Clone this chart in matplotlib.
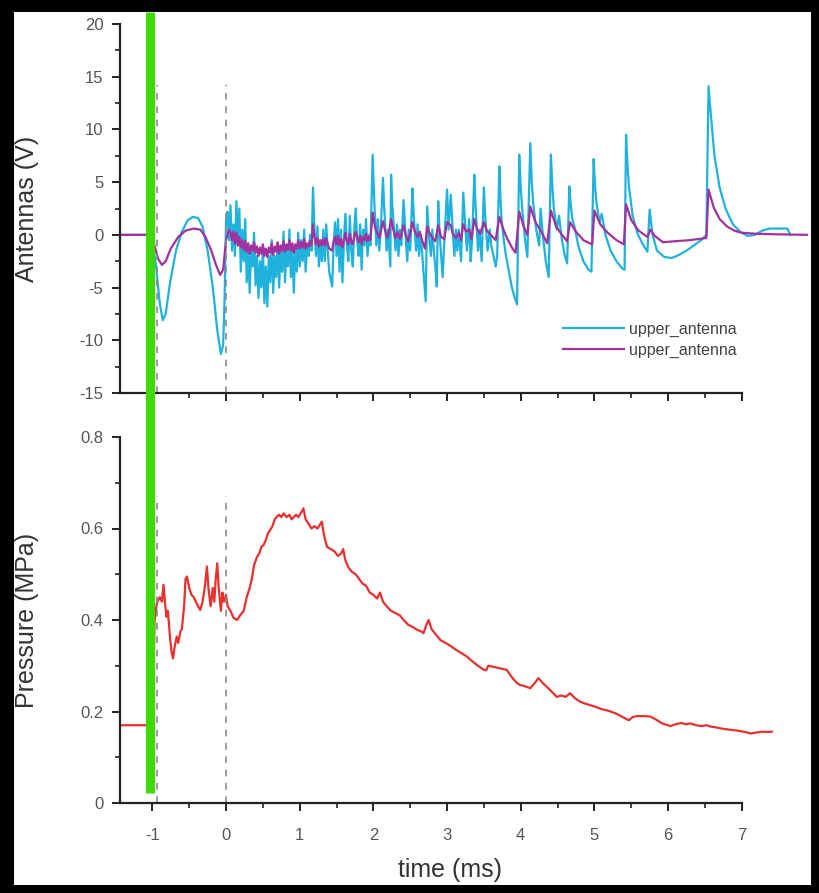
import numpy as np
import matplotlib
matplotlib.use("Agg")
import matplotlib.pyplot as plt
from matplotlib.lines import Line2D
from matplotlib.patches import Rectangle

plt.rcParams['font.family'] = ['Liberation Sans Narrow', 'Liberation Sans', 'DejaVu Sans']
plt.rcParams['axes.unicode_minus'] = False

# antenna signals, (time ms, volts)
upper = np.array([
    (-1.44, 0), (-1.05, 0), (-1.0, -0.5), (-0.95, -3), (-0.90, -6.5), (-0.86, -8.1), (-0.82, -7.5),
    (-0.76, -4.5), (-0.68, -1.5), (-0.6, 0.3), (-0.52, 1.4), (-0.45, 1.7), (-0.38, 1.6), (-0.32, 0.8),
    (-0.25, -1.5), (-0.18, -5), (-0.12, -9), (-0.07, -11.3), (-0.04, -10.5), (-0.02, -6), (0.0, 1.5),
    (0.02, 2.2), (0.04, -0.5), (0.06, 2.8), (0.08, -1.5), (0.10, 1.0), (0.12, -2.0), (0.14, 3.2),
    (0.16, -1.0), (0.18, 2.5), (0.20, -3.5), (0.22, 0.5), (0.24, -2.5), (0.26, 1.5), (0.28, -4.5),
    (0.30, -1.0), (0.32, -5.5), (0.34, -1.5), (0.36, -3.0), (0.38, 0.2), (0.40, -4.8), (0.42, -2.0),
    (0.44, -6.0), (0.46, -2.5), (0.48, -5.0), (0.50, -1.0), (0.52, -6.5), (0.54, -3.0), (0.56, -6.8),
    (0.58, -2.0), (0.60, -4.5), (0.62, -0.5), (0.64, -5.5), (0.66, -2.0), (0.68, -4.0), (0.70, -0.8),
    (0.72, -5.0), (0.74, -1.5), (0.76, -3.5), (0.78, 0.3), (0.80, -4.5), (0.82, -1.0), (0.84, -3.0),
    (0.86, 0.5), (0.88, -4.0), (0.90, -1.5), (0.92, -5.5), (0.94, -1.0), (0.96, -3.5), (0.98, 0.2),
    (1.00, -3.0), (1.02, -0.5), (1.04, -2.5), (1.06, 0.5), (1.08, -3.5), (1.10, -1.0), (1.12, -2.0),
    (1.14, 0.0), (1.16, -1.5), (1.18, 4.5), (1.20, 0.5), (1.22, -2.0), (1.24, 0.8), (1.26, -3.0),
    (1.28, -0.5), (1.30, -2.5), (1.32, 0.5), (1.34, -2.5), (1.36, 1.0), (1.38, -1.5), (1.40, -3.5),
    (1.44, -4.9), (1.46, -1.0), (1.48, 1.2), (1.50, -2.0), (1.52, 1.5), (1.54, -3.5), (1.56, 0.5),
    (1.58, -4.5), (1.60, -0.5), (1.62, 2.0), (1.64, -1.0), (1.66, -2.5), (1.68, 1.8), (1.70, -1.5),
    (1.72, -3.0), (1.74, 0.5), (1.76, 2.5), (1.78, -0.5), (1.80, -2.0), (1.82, 1.0), (1.84, -3.3),
    (1.86, 0.5), (1.88, -1.0), (1.90, 1.5), (1.92, -2.0), (1.94, 0.0), (1.96, -1.0), (1.99, 7.6),
    (2.01, 3.5), (2.02, 2.0), (2.04, -1.0), (2.06, 1.5), (2.08, -1.5), (2.10, 0.5), (2.13, 5.4),
    (2.145, 2.8), (2.16, 1.0), (2.18, -1.5), (2.20, 0.5), (2.23, -3.0), (2.24, 5.7), (2.255, 3.0),
    (2.27, 1.5), (2.30, -1.5), (2.32, 1.0), (2.34, -2.0), (2.36, 0.5), (2.38, -1.0), (2.41, 3.3),
    (2.44, -0.5), (2.46, -2.5), (2.48, 0.5), (2.50, -1.5), (2.53, 4.4), (2.545, 2.2), (2.56, 0.5),
    (2.58, -1.5), (2.60, 1.0), (2.62, -2.0), (2.64, 0.0), (2.66, -1.5), (2.68, -3.5), (2.71, -6.3),
    (2.73, 2.7), (2.76, -0.5), (2.78, -2.0), (2.80, 0.5), (2.82, -1.5), (2.84, -3.0), (2.86, -4.9),
    (2.88, 3.2), (2.90, 0.0), (2.92, -2.0), (2.94, -4.0), (2.96, -1.0), (3.00, 4.3), (3.02, 0.5),
    (3.05, 3.8), (3.08, 0.0), (3.10, -2.0), (3.12, 0.5), (3.14, -1.5), (3.16, 0.5), (3.19, -2.5),
    (3.22, 4.0), (3.25, 0.5), (3.27, -1.5), (3.30, 1.5), (3.32, -2.5), (3.34, -0.5), (3.37, 5.7),
    (3.385, 3.0), (3.40, 1.0), (3.42, -1.5), (3.44, 0.5), (3.47, -2.5), (3.50, 4.5), (3.515, 2.2),
    (3.53, 0.5), (3.55, -1.5), (3.58, 0.5), (3.60, -1.0), (3.63, -2.0), (3.66, -3.0), (3.68, -2.0),
    (3.71, 6.5), (3.725, 3.5), (3.74, 1.5), (3.77, -0.5), (3.80, -2.0), (3.84, -3.5), (3.88, -5.0),
    (3.92, -6.0), (3.95, -6.6), (3.98, 7.6), (4.00, 4.5), (4.02, 2.5), (4.06, -0.5), (4.09, -2.1),
    (4.13, 8.7), (4.15, 5.0), (4.17, 3.0), (4.21, 0.5), (4.25, -1.0), (4.27, 2.5), (4.30, 0.0),
    (4.34, -2.5), (4.38, -4.0), (4.41, 7.6), (4.43, 4.5), (4.45, 2.5), (4.49, 0.5), (4.52, 1.8),
    (4.56, -0.5), (4.60, -2.0), (4.63, -2.7), (4.66, 4.6), (4.68, 2.8), (4.70, 1.5), (4.74, 0.5),
    (4.78, -1.0), (4.85, -2.5), (4.92, -3.3), (4.96, -3.5), (4.99, 7.2), (5.01, 4.5), (5.03, 3.0),
    (5.07, 1.2), (5.10, 2.0), (5.15, 0.0), (5.22, -1.5), (5.30, -2.5), (5.38, -3.2), (5.41, -3.3),
    (5.43, 9.5), (5.45, 6.5), (5.47, 4.5), (5.52, 1.8), (5.58, 0.2), (5.65, -0.8), (5.72, -1.6),
    (5.75, 2.4), (5.79, 0.0), (5.85, -1.5), (5.95, -2.1), (6.05, -2.2), (6.15, -1.9), (6.25, -1.5),
    (6.35, -1.0), (6.45, -0.5), (6.52, 0.0), (6.55, 14.1), (6.58, 11.5), (6.63, 7.5), (6.70, 4.5),
    (6.78, 2.5), (6.88, 1.0), (6.98, 0.3), (7.08, -0.1), (7.18, 0.0), (7.28, 0.4), (7.38, 0.6),
    (7.50, 0.6), (7.62, 0.6), (7.66, 0.0),
])

lower = np.array([
    (-1.44, 0), (-1.03, 0), (-0.98, -0.8), (-0.92, -2.3), (-0.87, -2.85), (-0.82, -2.5), (-0.75, -1.3),
    (-0.65, -0.2), (-0.55, 0.4), (-0.44, 0.6), (-0.35, 0.5), (-0.28, -0.2), (-0.2, -1.5), (-0.14, -2.8),
    (-0.08, -3.8), (-0.04, -3.3), (0.0, -0.5), (0.04, 0.5), (0.06, 0.2), (0.08, -0.5), (0.10, 0.3),
    (0.12, -0.8), (0.14, 0.2), (0.16, -1.0), (0.18, -0.2), (0.20, -1.2), (0.22, -0.5), (0.24, -1.4),
    (0.26, -0.6), (0.28, -1.6), (0.30, -0.8), (0.32, -1.8), (0.34, -1.0), (0.36, -1.5), (0.38, -0.7),
    (0.40, -1.7), (0.42, -1.1), (0.44, -2.0), (0.46, -1.2), (0.48, -1.8), (0.50, -0.9), (0.52, -2.0),
    (0.54, -1.3), (0.56, -2.1), (0.58, -1.2), (0.60, -1.7), (0.62, -0.8), (0.64, -1.9), (0.66, -1.1),
    (0.68, -1.6), (0.70, -0.7), (0.72, -1.8), (0.74, -1.0), (0.76, -1.5), (0.78, -0.6), (0.80, -1.6),
    (0.82, -0.9), (0.84, -1.4), (0.86, -0.5), (0.88, -1.5), (0.90, -0.8), (0.92, -1.7), (0.94, -0.9),
    (0.96, -1.3), (0.98, -0.5), (1.00, -1.3), (1.02, -0.7), (1.04, -1.2), (1.06, -0.4), (1.08, -1.3),
    (1.10, -0.8), (1.12, -1.1), (1.14, -0.6), (1.16, -1.0), (1.18, 1.0), (1.20, -0.2), (1.22, -0.9),
    (1.24, -0.3), (1.26, -1.1), (1.28, -0.5), (1.30, -1.0), (1.32, -0.4), (1.34, -1.0), (1.36, -0.3),
    (1.38, -0.9), (1.40, -1.3), (1.44, -1.5), (1.46, -0.6), (1.48, -0.2), (1.50, -0.9), (1.52, -0.1),
    (1.54, -1.0), (1.56, -0.4), (1.58, -1.2), (1.60, -0.5), (1.62, 0.2), (1.64, -0.6), (1.66, -0.9),
    (1.68, 0.1), (1.70, -0.6), (1.72, -0.9), (1.74, -0.2), (1.76, 0.3), (1.78, -0.3), (1.80, -0.7),
    (1.82, -0.1), (1.84, -0.9), (1.86, -0.2), (1.88, -0.5), (1.90, 0.1), (1.92, -0.6), (1.94, -0.2),
    (1.96, -0.5), (1.99, 2.1), (2.02, 0.8), (2.05, 0.2), (2.08, -0.3), (2.10, 0.3), (2.13, 1.3),
    (2.16, 0.4), (2.19, -0.3), (2.21, 0.2), (2.24, 1.5), (2.27, 0.5), (2.30, -0.3), (2.33, 0.3),
    (2.36, -0.4), (2.38, 0.1), (2.41, 0.9), (2.44, 0.0), (2.47, -0.6), (2.50, 0.1), (2.53, 1.2),
    (2.56, 0.4), (2.60, -0.2), (2.63, 0.3), (2.66, -0.5), (2.70, -1.3), (2.73, 0.8), (2.76, 0.2),
    (2.80, -0.3), (2.84, -0.6), (2.88, 0.9), (2.92, -0.2), (2.96, -0.4), (3.00, 1.2), (3.05, 0.9),
    (3.08, 0.1), (3.12, -0.3), (3.16, 0.2), (3.19, -0.5), (3.22, 1.0), (3.26, 0.3), (3.30, 0.5),
    (3.33, -0.4), (3.37, 1.5), (3.41, 0.5), (3.45, 0.1), (3.50, 1.2), (3.54, 0.4), (3.58, 0.1),
    (3.62, -0.2), (3.66, -0.5), (3.71, 1.7), (3.76, 0.6), (3.82, -0.4), (3.88, -1.2), (3.93, -1.7),
    (3.98, 2.2), (4.04, 0.8), (4.09, 0.0), (4.13, 2.7), (4.20, 1.2), (4.28, 0.3), (4.36, -0.8),
    (4.41, 2.3), (4.48, 0.8), (4.56, 0.0), (4.63, -0.6), (4.67, 1.2), (4.75, 0.3), (4.85, -0.5),
    (4.97, -0.9), (5.00, 2.3), (5.08, 1.0), (5.18, 0.2), (5.30, -0.5), (5.40, -0.9), (5.43, 2.9),
    (5.50, 1.4), (5.60, 0.4), (5.72, -0.2), (5.76, 0.5), (5.82, -0.1), (5.93, -0.7), (6.10, -0.6),
    (6.30, -0.5), (6.52, -0.3), (6.55, 4.3), (6.62, 2.6), (6.70, 1.5), (6.80, 0.8), (6.90, 0.4),
    (7.00, 0.2), (7.20, 0.1), (7.50, 0.05), (7.90, 0.0),
])

# pressure trace, (time ms, MPa)
pressure = np.array([
    (-1.44, 0.17), (-1.05, 0.17), (-1.0, 0.17), (-0.97, 0.40), (-0.94, 0.437), (-0.90, 0.45),
    (-0.87, 0.44), (-0.85, 0.477), (-0.83, 0.44), (-0.81, 0.407), (-0.79, 0.42), (-0.76, 0.36),
    (-0.74, 0.33), (-0.72, 0.316), (-0.70, 0.34), (-0.67, 0.364), (-0.65, 0.35), (-0.62, 0.375),
    (-0.60, 0.38), (-0.57, 0.43), (-0.55, 0.49), (-0.53, 0.495), (-0.50, 0.47), (-0.47, 0.455),
    (-0.44, 0.45), (-0.41, 0.44), (-0.38, 0.43), (-0.35, 0.422), (-0.32, 0.44), (-0.29, 0.47),
    (-0.26, 0.517), (-0.24, 0.47), (-0.21, 0.43), (-0.18, 0.47), (-0.16, 0.44), (-0.14, 0.49),
    (-0.12, 0.524), (-0.10, 0.47), (-0.07, 0.42), (-0.05, 0.46), (-0.03, 0.44), (0.0, 0.455),
    (0.02, 0.43), (0.06, 0.42), (0.10, 0.405), (0.15, 0.40), (0.19, 0.41), (0.24, 0.42),
    (0.28, 0.45), (0.32, 0.47), (0.35, 0.49), (0.38, 0.52), (0.42, 0.538), (0.45, 0.545),
    (0.48, 0.56), (0.51, 0.564), (0.54, 0.575), (0.57, 0.59), (0.60, 0.597), (0.63, 0.605),
    (0.66, 0.62), (0.69, 0.626), (0.72, 0.63), (0.75, 0.625), (0.78, 0.633), (0.82, 0.625),
    (0.86, 0.63), (0.89, 0.62), (0.92, 0.625), (0.95, 0.63), (0.98, 0.625), (1.02, 0.635),
    (1.05, 0.644), (1.08, 0.62), (1.12, 0.61), (1.16, 0.60), (1.20, 0.605), (1.24, 0.60),
    (1.28, 0.61), (1.30, 0.615), (1.33, 0.585), (1.37, 0.56), (1.42, 0.555), (1.47, 0.55),
    (1.52, 0.54), (1.56, 0.545), (1.59, 0.555), (1.62, 0.53), (1.66, 0.515), (1.71, 0.505),
    (1.76, 0.50), (1.80, 0.491), (1.85, 0.48), (1.90, 0.475), (1.95, 0.46), (2.00, 0.455),
    (2.05, 0.447), (2.09, 0.46), (2.13, 0.44), (2.18, 0.43), (2.24, 0.42), (2.30, 0.415),
    (2.36, 0.41), (2.41, 0.40), (2.47, 0.39), (2.53, 0.385), (2.60, 0.378), (2.65, 0.375),
    (2.68, 0.371), (2.72, 0.39), (2.75, 0.40), (2.79, 0.38), (2.84, 0.37), (2.91, 0.356),
    (2.98, 0.35), (3.05, 0.343), (3.12, 0.335), (3.20, 0.327), (3.27, 0.32), (3.34, 0.31),
    (3.42, 0.30), (3.50, 0.291), (3.53, 0.29), (3.56, 0.30), (3.62, 0.298), (3.70, 0.295),
    (3.81, 0.291), (3.88, 0.275), (3.95, 0.262), (3.99, 0.258), (4.06, 0.255), (4.13, 0.251),
    (4.19, 0.262), (4.24, 0.273), (4.30, 0.262), (4.38, 0.25), (4.44, 0.24), (4.49, 0.232),
    (4.55, 0.235), (4.61, 0.232), (4.67, 0.24), (4.73, 0.23), (4.80, 0.222), (4.86, 0.218),
    (4.94, 0.214), (5.02, 0.21), (5.10, 0.205), (5.16, 0.203), (5.22, 0.20), (5.30, 0.195),
    (5.38, 0.188), (5.44, 0.183), (5.47, 0.181), (5.52, 0.188), (5.58, 0.19), (5.66, 0.19),
    (5.76, 0.189), (5.84, 0.182), (5.92, 0.174), (6.00, 0.17), (6.03, 0.168), (6.10, 0.172),
    (6.18, 0.175), (6.24, 0.172), (6.30, 0.174), (6.38, 0.17), (6.46, 0.168), (6.52, 0.17),
    (6.58, 0.167), (6.66, 0.165), (6.75, 0.162), (6.85, 0.16), (6.95, 0.158), (7.05, 0.155),
    (7.12, 0.152), (7.20, 0.154), (7.28, 0.156), (7.35, 0.155), (7.41, 0.156),
])

labels = ['upper_antenna', 'upper_antenna']
c_upper = '#1fb2dc'
c_lower = '#a3309f'
c_press = '#e8302e'
c_green = '#3fd900'
tick_grey = '#555555'

fig = plt.figure(figsize=(8.19, 8.93), dpi=100)
fig.patch.set_facecolor('black')
fig.patches.append(Rectangle((14 / 819, 8 / 893), 797 / 819, 873 / 893,
                             transform=fig.transFigure, facecolor='white',
                             edgecolor='none', zorder=-10))

ax1 = fig.add_axes([120 / 819, 500 / 893, 688 / 819, 369 / 893])
ax2 = fig.add_axes([120 / 819, 90 / 893, 688 / 819, 366 / 893])

xlim = (-1.44, 7.9)
for ax in (ax1, ax2):
    ax.set_facecolor('none')
    ax.set_xlim(*xlim)
    for s in ('top', 'right'):
        ax.spines[s].set_visible(False)
    for s in ('left', 'bottom'):
        ax.spines[s].set_linewidth(1.6)
        ax.spines[s].set_color('#222222')
    ax.spines['bottom'].set_bounds(xlim[0], 7)
    ax.set_xticks(range(-1, 8))
    ax.set_xticks(np.arange(-0.5, 7.01, 1.0), minor=True)
    ax.tick_params(which='major', direction='out', length=6, width=1.4,
                   colors='#222222', labelcolor=tick_grey, labelsize=12)
    ax.tick_params(which='minor', direction='out', length=3.5, width=1.2, colors='#222222')
    ax.tick_params(axis='x', which='major', pad=12)
    ax.tick_params(axis='y', which='major', pad=6)

ax1.plot(upper[:, 0], upper[:, 1], color=c_upper, lw=1.6, label=labels[0])
ax1.plot(lower[:, 0], lower[:, 1], color=c_lower, lw=1.6, label=labels[1])
ax1.set_ylim(-15, 20)
ax1.set_yticks(range(-15, 21, 5))
ax1.set_yticks(np.arange(-12.5, 20, 5), minor=True)
ax1.tick_params(axis='x', labelbottom=False)
ax1.vlines([-0.94, 0.0], -15, 14.2, colors='#8a8a8a', linestyles=(0, (4, 4)), lw=1.2)
ax1.set_ylabel('Antennas (V)', fontsize=18, color='#333333')
ax1.yaxis.set_label_coords(-0.118, 0.5)
leg = ax1.legend(loc='center', bbox_to_anchor=(0.77, 0.144), frameon=False,
                 handlelength=3.8, handletextpad=0.3, labelspacing=0.35,
                 prop={'family': ['Liberation Sans', 'DejaVu Sans'], 'size': 11.5})
for txt in leg.get_texts():
    txt.set_color('#444444')

ax2.plot(pressure[:, 0], pressure[:, 1], color=c_press, lw=1.6)
ax2.set_ylim(0, 0.8)
ax2.set_yticks([0, 0.2, 0.4, 0.6, 0.8])
ax2.set_yticklabels(['0', '0.2', '0.4', '0.6', '0.8'])
ax2.set_yticks([0.1, 0.3, 0.5, 0.7], minor=True)
ax2.vlines([-0.94, 0.0], 0, 0.67, colors='#8a8a8a', linestyles=(0, (4, 4)), lw=1.2)
ax2.set_ylabel('Pressure (MPa)', fontsize=18, color='#333333')
ax2.yaxis.set_label_coords(-0.118, 0.5)
ax2.set_xlabel('time (ms)', fontsize=18, color='#333333')
ax2.xaxis.set_label_coords(0.48, -0.15)

# thick green marker spanning both panels
gx = -1.03
x_fig = fig.transFigure.inverted().transform(ax2.transData.transform((gx, 0)))[0]
y_bot = fig.transFigure.inverted().transform(ax2.transData.transform((gx, 0.022)))[1]
fig.lines.append(Line2D([x_fig, x_fig], [y_bot, 881 / 893], transform=fig.transFigure,
                        color=c_green, lw=6.5, solid_capstyle='butt', zorder=5))

fig.savefig('out.png', dpi=100, facecolor=fig.get_facecolor())
